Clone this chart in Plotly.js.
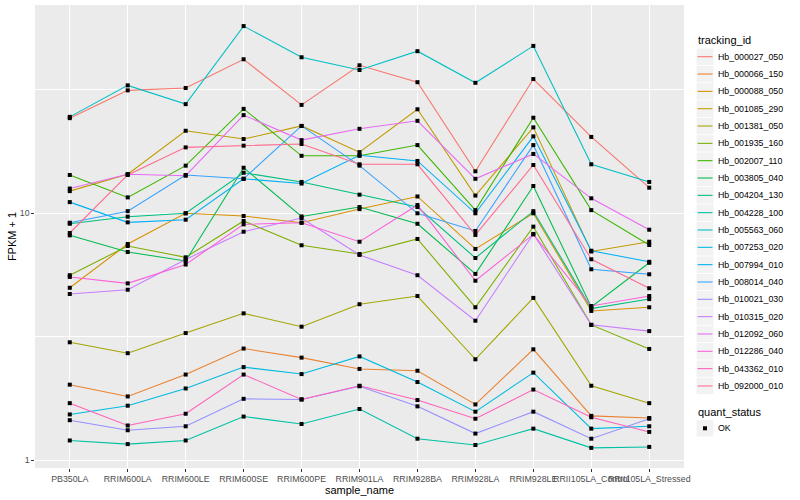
<!DOCTYPE html>
<html><head><meta charset="utf-8">
<script src="https://cdn.plot.ly/plotly-3.0.1.min.js"></script>
<style>html,body{margin:0;padding:0;background:#fff}#chart{width:800px;height:500px}</style>
</head><body><div id="chart"></div>
<script>
const samples = ["PB350LA","RRIM600LA","RRIM600LE","RRIM600SE","RRIM600PE","RRIM901LA","RRIM928BA","RRIM928LA","RRIM928LE","RRII105LA_Control","RRII105LA_Stressed"];
const trackingIds = ["Hb_000027_050","Hb_000066_150","Hb_000088_050","Hb_001085_290","Hb_001381_050","Hb_001935_160","Hb_002007_110","Hb_003805_040","Hb_004204_130","Hb_004228_100","Hb_005563_060","Hb_007253_020","Hb_007994_010","Hb_008014_040","Hb_010021_030","Hb_010315_020","Hb_012092_060","Hb_012286_040","Hb_043362_010","Hb_092000_010"];
const colors = ["#F8766D","#EA8331","#D89000","#C09B00","#A3A500","#7CAE00","#39B600","#00BB4E","#00BF7D","#00C1A3","#00BFC4","#00BAE0","#00B0F6","#35A2FF","#9590FF","#C77CFF","#E76BF3","#FA62DB","#FF62BC","#FF6C91"];

const Hb_000027_050 = [24.3, 31.5, 32.2, 42.1, 27.5, 39.8, 34.0, 14.8, 35.0, 20.4, 12.7];
const Hb_000066_150 = [2.02, 1.81, 2.22, 2.83, 2.60, 2.34, 2.30, 1.68, 2.81, 1.51, 1.48];
const Hb_000088_050 = [4.99, 7.51, 10.0, 9.75, 9.16, 10.4, 11.7, 7.17, 10.0, 4.02, 4.16];
const Hb_001085_290 = [12.3, 14.4, 21.6, 20.0, 22.6, 17.7, 26.4, 11.8, 22.3, 7.0, 7.67];
const Hb_001381_050 = [3.00, 2.71, 3.27, 3.93, 3.47, 4.28, 4.62, 2.56, 4.54, 2.00, 1.70];
const Hb_001935_160 = [5.61, 7.37, 6.63, 9.31, 7.42, 6.84, 7.87, 4.16, 8.83, 3.53, 2.82];
const Hb_002007_110 = [14.3, 11.6, 15.6, 26.5, 17.1, 17.1, 18.9, 10.3, 24.4, 10.3, 7.44];
const Hb_003805_040 = [8.14, 6.97, 6.41, 15.3, 9.71, 10.6, 9.07, 5.68, 12.9, 4.17, 6.30];
const Hb_004204_130 = [9.07, 9.69, 10.0, 14.6, 13.4, 11.9, 10.6, 6.59, 10.2, 4.11, 4.49];
const Hb_004228_100 = [1.20, 1.16, 1.20, 1.50, 1.40, 1.61, 1.22, 1.15, 1.34, 1.12, 1.13];
const Hb_005563_060 = [24.6, 33.0, 27.7, 57.4, 42.9, 38.1, 45.4, 33.8, 47.7, 15.8, 13.4];
const Hb_007253_020 = [1.53, 1.66, 1.95, 2.38, 2.23, 2.63, 2.07, 1.57, 2.26, 1.34, 1.37];
const Hb_007994_010 = [11.1, 9.19, 9.42, 13.8, 13.2, 17.2, 16.3, 10.0, 20.5, 7.05, 6.36];
const Hb_008014_040 = [9.16, 10.2, 14.3, 13.8, 22.6, 15.6, 10.0, 8.48, 18.9, 5.93, 5.66];
const Hb_010021_030 = [1.45, 1.32, 1.37, 1.77, 1.76, 1.99, 1.65, 1.28, 1.57, 1.22, 1.47];
const Hb_010315_020 = [4.71, 4.90, 6.50, 8.42, 9.57, 6.78, 5.61, 3.67, 8.25, 3.53, 3.33];
const Hb_012092_060 = [12.6, 14.4, 14.2, 25.0, 19.8, 22.0, 23.7, 13.8, 17.4, 11.5, 8.58];
const Hb_012286_040 = [5.52, 5.20, 6.20, 9.02, 9.16, 7.67, 10.8, 5.33, 8.21, 4.21, 4.62];
const Hb_043362_010 = [1.70, 1.38, 1.54, 2.22, 1.76, 2.00, 1.75, 1.47, 1.93, 1.49, 1.30];
const Hb_092000_010 = [8.32, 14.3, 18.5, 18.8, 19.1, 15.8, 15.8, 8.17, 15.7, 6.51, 4.97];

const quantStatus = ["OK"];

const seriesValues = [Hb_000027_050, Hb_000066_150, Hb_000088_050, Hb_001085_290, Hb_001381_050, Hb_001935_160, Hb_002007_110, Hb_003805_040, Hb_004204_130, Hb_004228_100, Hb_005563_060, Hb_007253_020, Hb_007994_010, Hb_008014_040, Hb_010021_030, Hb_010315_020, Hb_012092_060, Hb_012286_040, Hb_043362_010, Hb_092000_010];

const traces = [];
seriesValues.forEach((vals, i) => {
  traces.push({
    type: 'scatter', mode: 'lines', x: samples, y: vals,
    name: trackingIds[i], showlegend: false,
    line: {color: colors[i], width: 1.07},
    hoverinfo: 'x+y+name'
  });
});
seriesValues.forEach((vals, i) => {
  traces.push({
    type: 'scatter', mode: 'markers', x: samples, y: vals,
    name: trackingIds[i] + ' (' + quantStatus[0] + ')', showlegend: false,
    marker: {symbol: 'square', size: 4, color: '#000000'},
    hoverinfo: 'skip'
  });
});

// Plot panel in pixels (for legend placement)
const W = 800, H = 500, ML = 35, MR = 116, MT = 5, MB = 32;
const PW = W - ML - MR, PH = H - MT - MB;
const px2x = px => (px - ML) / PW;
const px2y = py => (H - MB - py) / PH;

const shapes = [], annotations = [];
const keyL = 696.5, keyR = 713.5, textX = 715.7;
annotations.push({xref: 'paper', yref: 'paper', x: px2x(keyL - 1), y: px2y(40.5), text: 'tracking_id',
  showarrow: false, xanchor: 'left', yanchor: 'middle', font: {size: 11, color: '#000000'}});
trackingIds.forEach((id, i) => {
  const cy = 56.7 + i * 17.33;
  shapes.push({type: 'rect', xref: 'paper', yref: 'paper', x0: px2x(keyL), x1: px2x(keyR),
    y0: px2y(cy + 8.2), y1: px2y(cy - 8.2), fillcolor: '#F2F2F2', line: {width: 0}, layer: 'above'});
  shapes.push({type: 'line', xref: 'paper', yref: 'paper', x0: px2x(keyL + 1), x1: px2x(keyR - 1),
    y0: px2y(cy), y1: px2y(cy), line: {color: colors[i], width: 1.07}, layer: 'above'});
  annotations.push({xref: 'paper', yref: 'paper', x: px2x(textX), y: px2y(cy), text: id,
    showarrow: false, xanchor: 'left', yanchor: 'middle', font: {size: 8.8, color: '#000000'}});
});
annotations.push({xref: 'paper', yref: 'paper', x: px2x(keyL - 1), y: px2y(411.7), text: 'quant_status',
  showarrow: false, xanchor: 'left', yanchor: 'middle', font: {size: 11, color: '#000000'}});
const okY = 428.3;
shapes.push({type: 'rect', xref: 'paper', yref: 'paper', x0: px2x(keyL), x1: px2x(keyR),
  y0: px2y(okY + 8.2), y1: px2y(okY - 8.2), fillcolor: '#F2F2F2', line: {width: 0}, layer: 'above'});
shapes.push({type: 'rect', xref: 'paper', yref: 'paper', x0: px2x(703), x1: px2x(707),
  y0: px2y(okY + 2), y1: px2y(okY - 2), fillcolor: '#000000', line: {width: 0}, layer: 'above'});
annotations.push({xref: 'paper', yref: 'paper', x: px2x(textX), y: px2y(okY), text: quantStatus[0],
  showarrow: false, xanchor: 'left', yanchor: 'middle', font: {size: 8.8, color: '#000000'}});

const layout = {
  width: W, height: H,
  margin: {l: ML, r: MR, t: MT, b: MB},
  paper_bgcolor: '#FFFFFF', plot_bgcolor: '#EBEBEB',
  font: {family: 'Liberation Sans, Arial, sans-serif', size: 8.8, color: '#4D4D4D'},
  showlegend: false,
  xaxis: {
    type: 'category', categoryorder: 'array', categoryarray: samples,
    range: [-0.6, 10.6], showgrid: true, gridcolor: '#FFFFFF', gridwidth: 1.07,
    zeroline: false, showline: false, ticks: 'outside', ticklen: 2.7, tickwidth: 1.07,
    tickcolor: '#333333', tickfont: {size: 8.8, color: '#4D4D4D'}, tickangle: 0,
    title: {text: 'sample_name', font: {size: 11, color: '#000000'}, standoff: 0},
    automargin: false
  },
  yaxis: {
    type: 'log', range: [-0.0324, 1.8443],
    tickmode: 'array', tickvals: [1, 10], ticktext: ['1', '10'],
    showgrid: true, gridcolor: '#FFFFFF', gridwidth: 1.07,
    minor: {tickmode: 'array', tickvals: [3.1623, 31.623], showgrid: true, gridcolor: '#FFFFFF', gridwidth: 0.53, ticks: ''},
    zeroline: false, showline: false, ticks: 'outside', ticklen: 2.7, tickwidth: 1.07,
    tickcolor: '#333333', tickfont: {size: 8.8, color: '#4D4D4D'},
    title: {text: 'FPKM + 1', font: {size: 11, color: '#000000'}, standoff: 0},
    automargin: false
  },
  shapes: shapes,
  annotations: annotations
};

Plotly.newPlot('chart', traces, layout, {displayModeBar: false});
</script>
</body></html>
